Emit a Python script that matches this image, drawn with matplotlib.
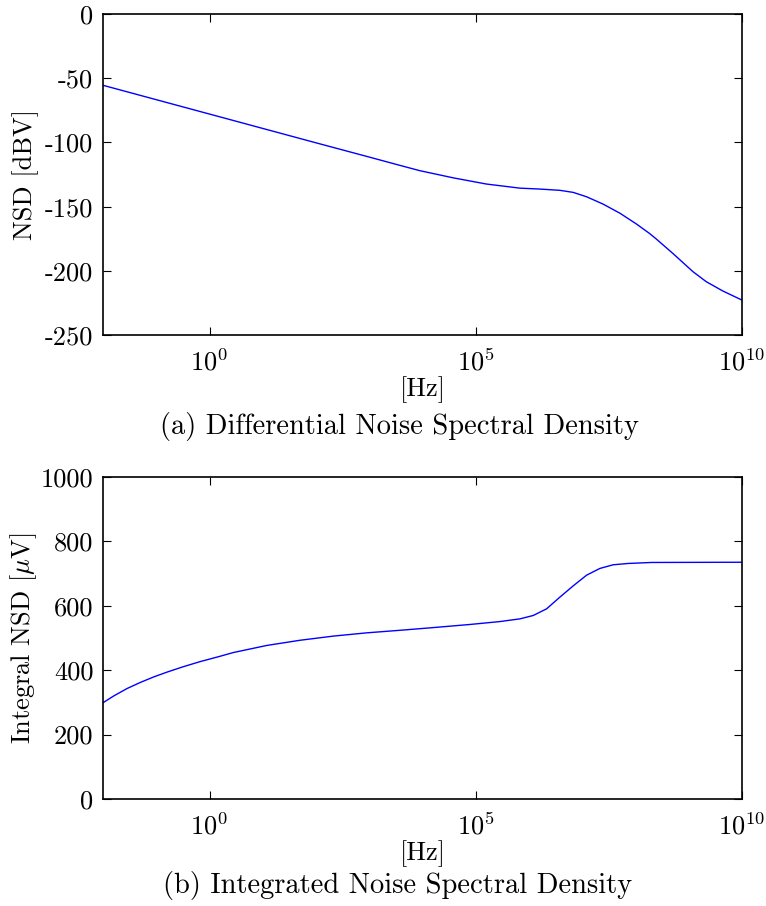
import numpy as np
import matplotlib
matplotlib.use("Agg")
import matplotlib.pyplot as plt
from matplotlib.ticker import FixedLocator, LogFormatterMathtext, StrMethodFormatter

plt.rcParams["font.family"] = "serif"
plt.rcParams["font.serif"] = ["cmr10", "DejaVu Serif"]
plt.rcParams["mathtext.fontset"] = "cm"
plt.rcParams["axes.unicode_minus"] = False
plt.rcParams["axes.formatter.use_mathtext"] = True

# (a) differential NSD (log10 of frequency in Hz)
nsd_logf = [-2.0, -1.0, 0.0, 1.0, 2.0, 3.0, 3.57, 3.95, 4.58, 5.2, 5.83,
            6.2, 6.58, 6.83, 7.08, 7.39, 7.71, 8.02, 8.26, 8.39, 8.7, 9.08,
            9.33, 9.64, 10.0]
nsd_db = [-55.5, -66.7, -77.9, -89.1, -100.3, -111.4, -117.8, -122.0, -127.6,
          -132.4, -135.6, -136.3, -137.3, -138.9, -142.3, -148.0, -155.2,
          -163.6, -170.8, -175.2, -186.4, -200.7, -208.5, -215.7, -222.8]

# (b) integrated NSD in microvolts
int_logf = [-2.0, -1.8, -1.55, -1.3, -1.05, -0.8, -0.49, -0.17, 0.17, 0.45,
            1.08, 1.7, 2.33, 2.95, 3.58, 4.14, 4.89, 5.45, 5.83, 6.08, 6.33,
            6.58, 6.83, 7.08, 7.33, 7.58, 7.86, 8.3, 10.0]
int_uv = [299.0, 320.0, 343.0, 362.0, 379.0, 394.0, 411.0, 427.0, 442.0,
          455.0, 477.0, 493.0, 506.0, 516.0, 524.0, 531.5, 542.0, 551.0,
          559.5, 570.0, 590.6, 627.0, 662.0, 695.0, 716.0, 727.4, 731.5,
          734.6, 735.3]

xticks = [1e0, 1e5, 1e10]
fs = 19
blue = "#0000ff"

fig = plt.figure(figsize=(7.66, 9.06), dpi=100)
ax1 = fig.add_axes([0.1345, 0.6302, 0.8342, 0.3543])
ax2 = fig.add_axes([0.1345, 0.1181, 0.8342, 0.3554])

ax1.plot(10 ** np.array(nsd_logf), nsd_db, color=blue, lw=1)
ax2.plot(10 ** np.array(int_logf), int_uv, color=blue, lw=1)

for ax in (ax1, ax2):
    ax.set_xscale("log")
    ax.set_xlim(1e-2, 1e10)
    ax.xaxis.set_major_locator(FixedLocator(xticks))
    ax.xaxis.set_major_formatter(LogFormatterMathtext())
    ax.xaxis.set_minor_locator(FixedLocator([]))
    ax.yaxis.set_major_formatter(StrMethodFormatter("{x:.0f}"))
    ax.tick_params(direction="in", top=True, right=True, length=6, width=0.8,
                   labelsize=fs)
    ax.tick_params(axis="x", pad=10)
    ax.tick_params(axis="y", pad=7)
    ax.set_xlabel("[Hz]", fontsize=fs, labelpad=0)
    ax.yaxis.set_label_coords(-0.10, 0.5)
    for s in ax.spines.values():
        s.set_linewidth(1.2)

ax1.set_ylim(-250, 0)
ax1.set_yticks(range(-250, 1, 50))
ax1.set_ylabel("NSD [dBV]", fontsize=fs)

ax2.set_ylim(0, 1000)
ax2.set_yticks(range(0, 1001, 200))
ax2.set_ylabel(r"Integral NSD [$\mu$V]", fontsize=fs)

fig.text(0.5215, 0.5298, "(a) Differential Noise Spectral Density",
         ha="center", va="center", fontsize=20.5)
fig.text(0.519, 0.0221, "(b) Integrated Noise Spectral Density",
         ha="center", va="center", fontsize=20.5)

fig.savefig("out.png", dpi=100)
